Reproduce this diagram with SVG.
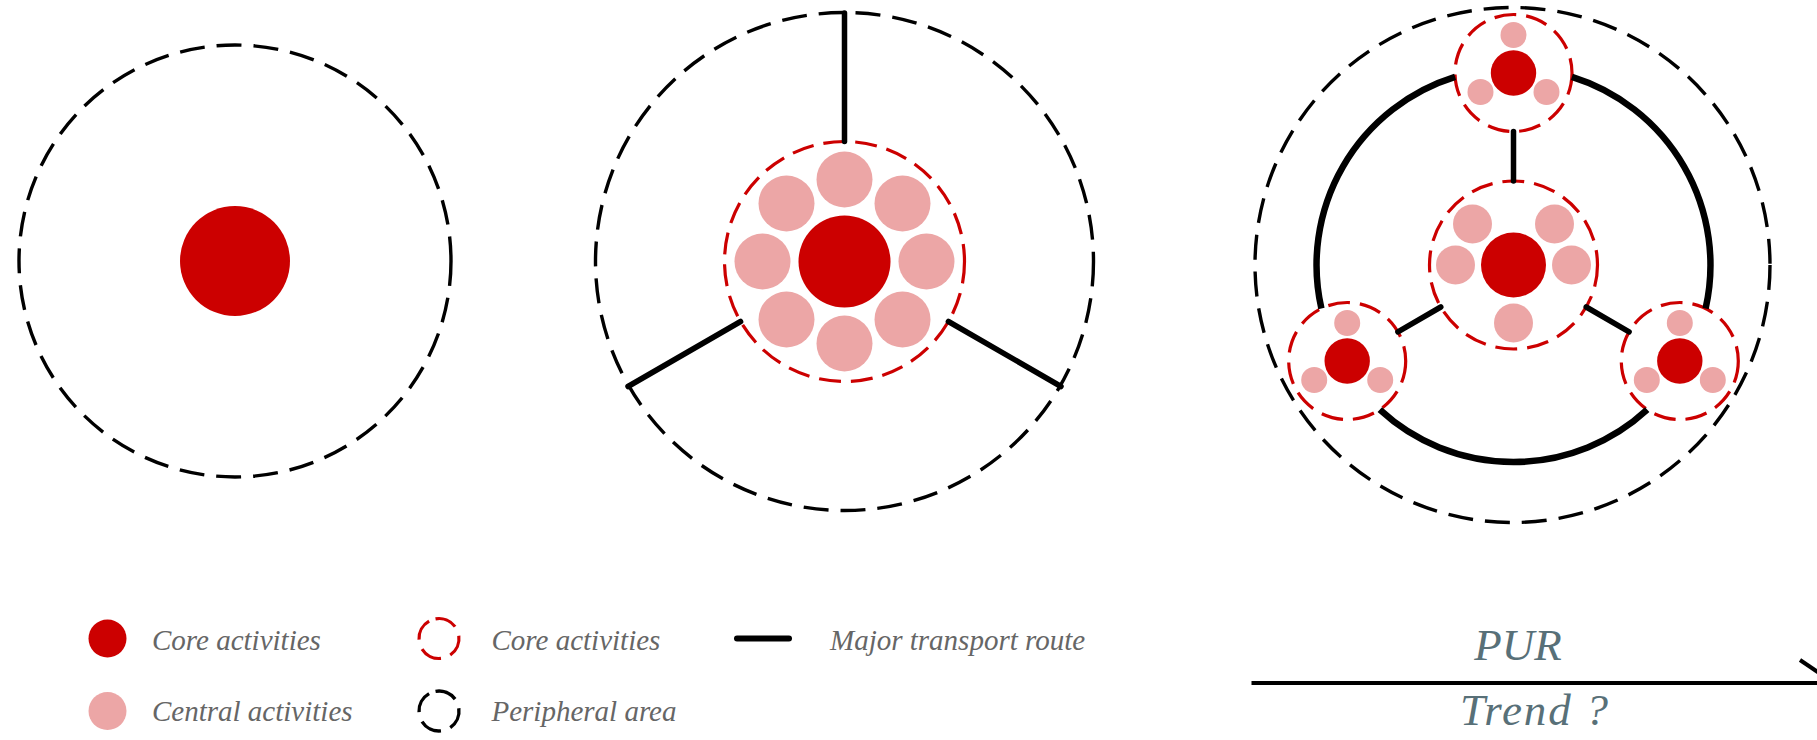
<svg xmlns="http://www.w3.org/2000/svg" width="1817" height="740" viewBox="0 0 1817 740">
<style>
.bg{fill:#ffffff}
.core{fill:#cc0000}
.central{fill:#eca6a6}
.periph{fill:none;stroke:#000;stroke-width:3.4;stroke-dasharray:25 12}
.coreb{fill:none;stroke:#cc0000;stroke-width:3.2;stroke-dasharray:22 10}
.route{fill:none;stroke:#000;stroke-width:5.5;stroke-linecap:round}
.ring{fill:none;stroke:#000;stroke-width:6.5;stroke-linecap:butt}
.lg{font-family:"Liberation Serif","Times New Roman",serif;font-style:italic;font-size:29px;fill:#666666}
.tr{font-family:"Liberation Serif","Times New Roman",serif;font-style:italic;font-size:45px;fill:#587078}
</style>
<rect class="bg" x="0" y="0" width="1817" height="740"/>

<!-- Diagram 1 -->
<g id="d1-periphery"><circle class="periph" cx="235" cy="261" r="216"/></g>
<g id="d1-core"><circle class="core" cx="235" cy="261" r="55"/></g>

<!-- Diagram 2 -->
<g id="d2-periphery"><circle class="periph" cx="844.5" cy="261.5" r="249"/></g>
<g id="d2-center">
  <circle class="coreb" cx="844.5" cy="261.5" r="120"/>
  <circle class="central" cx="844.5" cy="179.5" r="28"/>
  <circle class="central" cx="902.5" cy="203.5" r="28"/>
  <circle class="central" cx="926.5" cy="261.5" r="28"/>
  <circle class="central" cx="902.5" cy="319.5" r="28"/>
  <circle class="central" cx="844.5" cy="343.5" r="28"/>
  <circle class="central" cx="786.5" cy="319.5" r="28"/>
  <circle class="central" cx="762.5" cy="261.5" r="28"/>
  <circle class="central" cx="786.5" cy="203.5" r="28"/>
  <circle class="core" cx="844.5" cy="261.5" r="46"/>
</g>

<!-- Diagram 3 -->
<g id="d3-periphery"><circle class="periph" cx="1512.5" cy="265" r="257.5"/></g>
<g id="d3-center">
  <circle class="coreb" cx="1513.5" cy="265" r="84"/>
  <circle class="central" cx="1472.5" cy="224" r="19.5"/>
  <circle class="central" cx="1554.5" cy="224" r="19.5"/>
  <circle class="central" cx="1455.5" cy="265" r="19.5"/>
  <circle class="central" cx="1571.5" cy="265" r="19.5"/>
  <circle class="central" cx="1513.5" cy="323" r="19.5"/>
  <circle class="core" cx="1513.5" cy="265" r="32.5"/>
</g>
<g id="d3-sub-top">
  <circle class="coreb" cx="1513.5" cy="73" r="58.5"/>
  <circle class="central" cx="1513.5" cy="35" r="13"/>
  <circle class="central" cx="1480.5" cy="92" r="13"/>
  <circle class="central" cx="1546.5" cy="92" r="13"/>
  <circle class="core" cx="1513.5" cy="73" r="22.7"/>
</g>
<g id="d3-sub-left">
  <circle class="coreb" cx="1347.2" cy="361" r="58.5"/>
  <circle class="central" cx="1347.2" cy="323" r="13"/>
  <circle class="central" cx="1314.2" cy="380" r="13"/>
  <circle class="central" cx="1380.2" cy="380" r="13"/>
  <circle class="core" cx="1347.2" cy="361" r="22.7"/>
</g>
<g id="d3-sub-right">
  <circle class="coreb" cx="1679.8" cy="361" r="58.5"/>
  <circle class="central" cx="1679.8" cy="323" r="13"/>
  <circle class="central" cx="1646.8" cy="380" r="13"/>
  <circle class="central" cx="1712.8" cy="380" r="13"/>
  <circle class="core" cx="1679.8" cy="361" r="22.7"/>
</g>

<!-- Connectors: major transport routes -->
<g id="connectors">
  <line class="route" x1="844.5" y1="13" x2="844.5" y2="141.5"/>
  <line class="route" x1="740.6" y1="321.5" x2="628" y2="386.5"/>
  <line class="route" x1="948.4" y1="321.5" x2="1061" y2="386.5"/>
  <line class="route" x1="1513.5" y1="181" x2="1513.5" y2="131.5"/>
  <line class="route" x1="1440.8" y1="307" x2="1397.9" y2="331.8"/>
  <line class="route" x1="1586.2" y1="307" x2="1629.1" y2="331.8"/>
  <path class="ring" d="M1455.1,76.9 A197,197 0 0 0 1321.4,308.5"/>
  <path class="ring" d="M1379.8,409.7 A197,197 0 0 0 1647.2,409.7"/>
  <path class="ring" d="M1705.6,308.5 A197,197 0 0 0 1571.9,76.9"/>
</g>

<!-- Legend -->
<g id="legend-core">
  <circle class="core" cx="107.5" cy="638.5" r="19"/>
  <text class="lg" x="152" y="649.5">Core activities</text>
</g>
<g id="legend-central">
  <circle class="central" cx="107.5" cy="711" r="19"/>
  <text class="lg" x="152" y="720.5">Central activities</text>
</g>
<g id="legend-core-area">
  <circle class="coreb" cx="439" cy="638.5" r="20" transform="rotate(-100 439 638.5)"/>
  <text class="lg" x="491.5" y="649.5">Core activities</text>
</g>
<g id="legend-periphery">
  <circle class="periph" cx="439" cy="711" r="20" style="stroke-dasharray:22 10" transform="rotate(-100 439 711)"/>
  <text class="lg" x="491.5" y="720.5">Peripheral area</text>
</g>
<g id="legend-route">
  <line x1="737" y1="638.5" x2="789" y2="638.5" stroke="#000" stroke-width="6" stroke-linecap="round"/>
  <text class="lg" x="830" y="649.5">Major transport route</text>
</g>

<!-- Trend axis -->
<g id="trend">
  <text class="tr" x="1518" y="660" text-anchor="middle">PUR</text>
  <line x1="1251.5" y1="683" x2="1840" y2="683" stroke="#000" stroke-width="4"/>
  <line x1="1800" y1="660" x2="1834" y2="683" stroke="#000" stroke-width="4"/>
  <text class="tr" x="1460" y="725" textLength="148" lengthAdjust="spacing">Trend ?</text>
</g>
</svg>
